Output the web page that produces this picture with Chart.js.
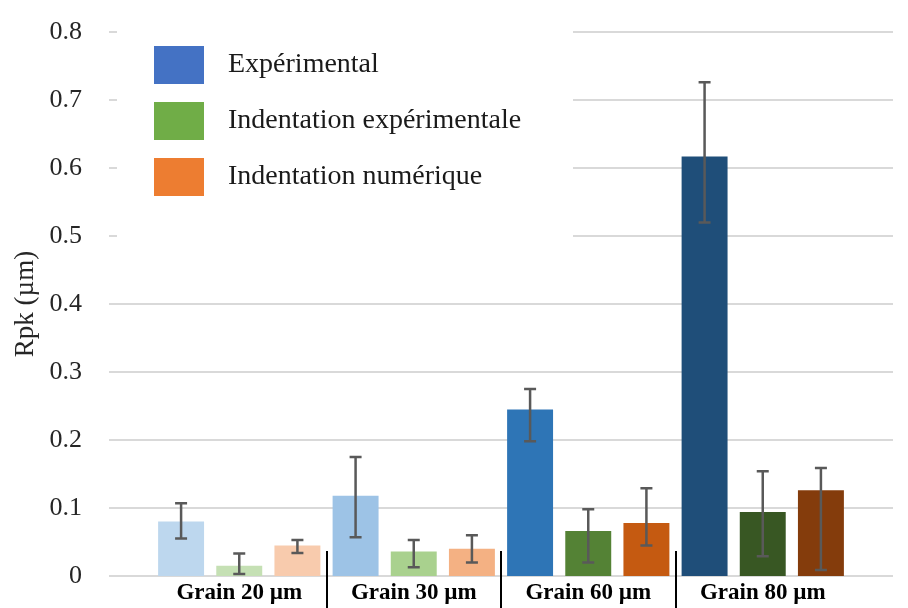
<!DOCTYPE html>
<html>
<head>
<meta charset="utf-8">
<script src="https://cdn.jsdelivr.net/npm/chart.js@4.4.0/dist/chart.umd.min.js"></script>
<style>
  body { margin: 0; background: #fff; }
</style>
</head>
<body>
<canvas id="chartRpk" width="908" height="608"></canvas>
<script>
// data
const categories = ['Grain 20 µm', 'Grain 30 µm', 'Grain 60 µm', 'Grain 80 µm'];
const seriesNames = ['Expérimental', 'Indentation expérimentale', 'Indentation numérique'];

const experimental = [0.080, 0.118, 0.245, 0.617];
const indentExp = [0.015, 0.036, 0.066, 0.094];
const indentNum = [0.045, 0.040, 0.078, 0.126];

// error bar ends (low / high)
const lowExperimental = [0.055, 0.057, 0.198, 0.520];
const highExperimental = [0.107, 0.175, 0.275, 0.726];
const lowIndentExp = [0.003, 0.013, 0.020, 0.029];
const highIndentExp = [0.033, 0.053, 0.098, 0.154];
const lowIndentNum = [0.034, 0.020, 0.045, 0.009];
const highIndentNum = [0.053, 0.060, 0.129, 0.159];

const yMin = 0, yMax = 0.8, yStep = 0.1;

// colours: one per bar (gets darker with grain size), plus legend swatches
const blues = ['#bdd7ee', '#9dc3e6', '#2e75b6', '#1f4e79'];
const greens = ['#c5e0b4', '#a9d18e', '#548235', '#385723'];
const oranges = ['#f8cbad', '#f4b183', '#c55a11', '#843c0c'];
const legendColors = ['#4472c4', '#70ad47', '#ed7d31'];

const serif = "'Liberation Serif', 'DejaVu Serif', serif";
const errLow = [lowExperimental, lowIndentExp, lowIndentNum];
const errHigh = [highExperimental, highIndentExp, highIndentNum];

const decor = {
    id: 'decor',
    beforeDatasetsDraw(chart) {
        const { ctx, chartArea, scales: { y } } = chart;
        ctx.save();
        // grid lines run a bit past the category area, like in the original
        ctx.strokeStyle = '#d9d9d9';
        ctx.lineWidth = 2;
        y.ticks.forEach(t => {
            const py = Math.round(y.getPixelForValue(t.value));
            ctx.beginPath();
            ctx.moveTo(chartArea.left - 43, py);
            ctx.lineTo(chartArea.right + 43, py);
            ctx.stroke();
        });

        // legend inside the plot, on a white patch
        ctx.fillStyle = '#fff';
        ctx.fillRect(chartArea.left - 35, 16, 456, 234);
        ctx.font = '28px ' + serif;
        ctx.textBaseline = 'middle';
        chart.data.datasets.forEach((ds, i) => {
            const top = 46 + i * 56;
            ctx.fillStyle = legendColors[i];
            ctx.fillRect(154, top, 50, 38);
            ctx.fillStyle = '#1a1a1a';
            ctx.fillText(ds.label, 228, top + 19);
        });
        ctx.restore();
    },
    afterDatasetsDraw(chart) {
        const { ctx, scales: { y } } = chart;
        ctx.save();
        ctx.strokeStyle = '#595959';
        ctx.lineWidth = 2.5;
        chart.data.datasets.forEach((ds, di) => {
            const meta = chart.getDatasetMeta(di);
            meta.data.forEach((bar, i) => {
                const y1 = y.getPixelForValue(errHigh[di][i]);
                const y2 = y.getPixelForValue(errLow[di][i]);
                ctx.beginPath();
                ctx.moveTo(bar.x, y1); ctx.lineTo(bar.x, y2);
                ctx.moveTo(bar.x - 6, y1); ctx.lineTo(bar.x + 6, y1);
                ctx.moveTo(bar.x - 6, y2); ctx.lineTo(bar.x + 6, y2);
                ctx.stroke();
            });
        });
        ctx.restore();
    },
    afterDraw(chart) {
        // separators between the grain groups
        const { ctx, chartArea, scales: { x } } = chart;
        ctx.save();
        ctx.strokeStyle = '#000';
        ctx.lineWidth = 2;
        for (let i = 0; i < categories.length - 1; i++) {
            const px = Math.round((x.getPixelForTick(i) + x.getPixelForTick(i + 1)) / 2);
            ctx.beginPath();
            ctx.moveTo(px, chartArea.bottom - 25);
            ctx.lineTo(px, chart.height);
            ctx.stroke();
        }
        ctx.restore();
    }
};

new Chart('chartRpk', {
    type: 'bar',
    data: {
        labels: categories,
        datasets: [
            { label: seriesNames[0], data: experimental, backgroundColor: blues },
            { label: seriesNames[1], data: indentExp, backgroundColor: greens },
            { label: seriesNames[2], data: indentNum, backgroundColor: oranges }
        ]
    },
    options: {
        responsive: false,
        animation: false,
        layout: { padding: { top: 32, right: 58, left: 0, bottom: 0 } },
        datasets: {
            bar: { categoryPercentage: 1.0, barPercentage: 0.79 }
        },
        plugins: {
            legend: { display: false },
            tooltip: { enabled: false }
        },
        scales: {
            x: {
                grid: { display: false, drawTicks: false },
                border: { display: false },
                ticks: {
                    color: '#000',
                    padding: 3,
                    font: { family: serif, size: 23, weight: 'bold' }
                },
                afterFit(scale) { scale.height = 32; }
            },
            y: {
                min: yMin,
                max: yMax,
                grid: { display: false, drawTicks: false },
                border: { display: false },
                ticks: {
                    stepSize: yStep,
                    color: '#262626',
                    padding: 70,
                    font: { family: serif, size: 26 },
                    callback: v => String(+v.toFixed(1))
                },
                title: {
                    display: true,
                    text: 'Rpk (µm)',
                    color: '#262626',
                    padding: { top: 10, bottom: 0 },
                    font: { family: serif, size: 27 }
                },
                afterFit(scale) {
                    scale.width = 152;
                    // the big label padding should only push labels sideways
                    scale.paddingTop = 0;
                    scale.paddingBottom = 0;
                }
            }
        }
    },
    plugins: [decor]
});
</script>
</body>
</html>
